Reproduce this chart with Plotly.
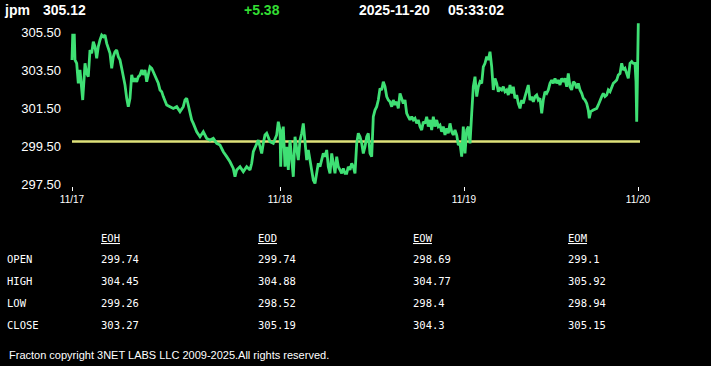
import plotly.graph_objects as go

W, H = 711, 366

symbol = "jpm"
last_price = "305.12"
change = "+5.38"
stamp_date = "2025-11-20"
stamp_time = "05:33:02"

# elapsed time index (trading units) and price
t = [0, 0.7, 2.3, 3, 4.7, 6.3, 8, 9.7, 10.7, 12, 13, 14.7, 16.3, 18, 19.7, 21.3, 23, 24.7, 26.3, 28, 29.7, 31.3, 33, 34.7, 36.3, 38, 39.7, 41.3, 43, 44.7, 46.3, 48, 49.7, 51.3, 53, 54.7, 56.3, 58, 59.7, 61.3, 63, 64.7, 66.3, 68, 69.7, 71.3, 73, 74.7, 76.3, 78, 79.7, 81.3, 83, 84.7, 86.3, 88, 89.7, 91.3, 93, 94.7, 98, 101.3, 104.7, 108, 111.3, 113, 114.7, 116.3, 118, 119.7, 121.3, 124.7, 128, 131.3, 134.7, 138, 141.3, 144.7, 148, 151.3, 154.7, 158, 161.3, 163, 164.7, 168, 171.3, 174.7, 178, 179.7, 181.3, 184.7, 186.3, 188, 189.7, 191.3, 193, 194.7, 196.3, 198, 201.3, 204.7, 206.3, 208, 208.7, 209.7, 211.3, 213, 214.7, 216.3, 218, 219.7, 221.3, 223, 224.7, 226.3, 228, 229.7, 231.3, 233, 234.7, 236.3, 238, 239.7, 241.3, 243, 244.7, 246.3, 248, 249.7, 251.3, 253, 254.7, 256.3, 258, 259.7, 261.3, 263, 264.7, 266.3, 268, 269.7, 271.3, 273, 274.7, 276.3, 278, 279.7, 281.3, 283, 284.7, 286.3, 288,
     289.7, 291.3, 293, 294.7, 296.3, 298, 299.7, 301.3, 303, 304.7, 306.3, 308, 309.7, 311.3, 313, 314.7, 316.3, 318, 319.7, 321.3, 323, 324.7, 326.3, 328, 329.7, 331.3, 333, 334.7, 336.3, 338, 339.7, 341.3, 343, 344.7, 346.3, 348, 349.7, 351.3, 353, 354.7, 356.3, 358, 359.7, 361.3, 363, 364.7, 366.3, 368, 369.7, 371.3, 373, 374.7, 376.3, 378, 379.7, 381.3, 383, 384.7, 386.3, 388, 389.7, 391.3, 393, 394.7, 396.3, 398, 399.7, 401.3, 403, 404.7, 406.3, 408, 409.7, 411.3, 413, 414.7, 416.3, 418, 419.7, 421.3, 423, 424.7, 426.3, 428, 429.7, 431.3, 433, 434.7, 436.3, 438, 439.7, 441.3, 443, 444.7, 446.3, 448, 449.7, 451.3, 453, 454.7, 456.3, 458, 459.7, 461.3, 463, 464.7, 466.3, 468, 469.7, 471.3, 473, 474.7, 476.3, 478, 479.7, 481.3, 483, 484.7, 486.3, 488, 489.7, 491.3, 493, 494.7, 496.3, 498, 499.7, 501.3, 503, 504.7, 506.3, 508, 509.7, 511.3, 513, 514.7, 516.3, 517.3, 518.7, 521.3, 524.7, 526.3, 528, 529.7, 531.3, 533, 534.7, 536.3, 538, 539.7, 541.3, 543, 544.7, 546.3, 548, 549.7, 551.3, 553, 554.7, 556.3, 558, 559.7, 561.3, 563, 564, 564.7, 565.3, 566.3]

price = [304.03, 305.34, 305.34, 304.03, 303.85, 302.80, 303.50, 302.62, 301.92, 302.97, 303.85, 303.32, 303.15, 304.55, 304.38, 304.99, 304.73, 304.11, 304.73, 305.08, 305.34, 305.25, 305.34, 304.90, 304.64, 304.38, 303.59, 304.20, 304.46, 304.55, 304.20, 304.03, 303.59, 303.24, 302.71, 302.01, 301.57, 302.01, 303.24, 302.88, 303.06, 302.88, 303.15, 303.24, 303.50, 303.24, 303.50, 302.88, 303.32, 303.67, 303.59, 303.41, 303.24, 302.97, 302.80, 302.45, 302.36, 302.10, 301.83, 301.66, 301.57, 301.48, 301.57, 301.31, 301.57, 301.92, 302.01, 301.66, 301.22, 300.87, 300.69, 300.25, 299.99, 300.25, 299.90, 299.81, 299.90, 299.64, 299.55, 299.20, 298.94, 298.67, 298.32, 297.88, 298.24, 298.41, 298.15, 298.41, 298.24, 298.59, 299.20, 299.64, 299.81, 299.46, 299.11, 299.64, 300.08, 300.17, 299.90, 299.73, 299.64, 300.08, 300.78, 300.34, 298.41, 299.99, 300.52, 298.41, 299.46, 298.24, 299.81, 298.59, 297.88, 299.99, 299.46, 298.76, 299.81, 300.17, 300.69, 299.81, 298.76, 299.29, 298.76, 298.24, 297.71, 297.53, 298.06, 298.59, 298.41, 298.76, 299.11, 298.94, 299.29, 298.41, 298.06, 299.11, 298.59, 298.06, 298.94, 298.41, 298.24, 298.06, 298.32, 298.06, 298.06, 298.41, 298.24, 298.59, 298.41, 298.06, 299.64, 300.17, 299.99,
         299.64, 299.11, 299.46, 299.99, 300.17, 299.11, 298.94, 301.04, 301.39, 301.57, 301.92, 302.53, 302.45, 302.88, 302.62, 302.10, 301.92, 301.83, 301.57, 301.92, 301.66, 301.83, 301.48, 302.27, 301.92, 301.74, 301.92, 301.22, 301.04, 300.87, 301.04, 300.87, 300.96, 300.69, 300.87, 300.52, 300.34, 300.78, 300.69, 301.04, 300.52, 300.87, 300.34, 301.04, 300.52, 300.87, 300.52, 300.60, 300.25, 300.52, 300.08, 300.43, 300.17, 300.69, 300.25, 300.08, 300.34, 300.08, 299.55, 299.64, 298.94, 300.52, 299.11, 300.34, 300.52, 299.64, 301.22, 302.62, 303.15, 302.10, 302.62, 302.88, 302.80, 303.67, 303.85, 304.20, 304.03, 304.46, 303.67, 302.45, 303.06, 302.80, 302.36, 302.53, 302.45, 302.62, 302.36, 302.45, 302.18, 302.71, 302.27, 302.62, 302.01, 302.18, 301.74, 301.48, 301.92, 301.74, 302.10, 302.36, 302.71, 301.92, 302.10, 301.83, 302.10, 302.18, 301.92, 302.01, 301.22, 301.92, 302.36, 302.27, 302.45, 302.80, 302.97, 302.80, 303.06, 302.80, 302.97, 302.71, 303.06, 302.88, 303.06, 302.62, 303.32, 302.62, 302.45, 302.88, 302.80, 302.53, 302.80, 302.45, 302.27, 302.01, 301.92, 301.74, 301.39, 300.96, 301.31, 301.39, 301.48, 301.66, 301.92, 302.10, 302.27, 302.10, 302.18, 302.45, 302.36, 302.62, 302.80, 302.88, 302.97, 303.24, 303.32, 303.85, 303.50, 303.59, 303.32, 303.06, 303.85, 303.94, 303.85, 303.85, 302.88, 300.78, 302.62, 305.96]

ref_level = 299.74
ref_span = [0, 568]

y_ticks = [297.5, 299.5, 301.5, 303.5, 305.5]
x_tick_pos = [0, 208, 392, 566]
x_tick_text = ["11/17", "11/18", "11/19", "11/20"]

col_headers = ["EOH", "EOD", "EOW", "EOM"]
row_labels = ["OPEN", "HIGH", "LOW", "CLOSE"]
eoh = ["299.74", "304.45", "299.26", "303.27"]
eod = ["299.74", "304.88", "298.52", "305.19"]
eow = ["298.69", "304.77", "298.4", "304.3"]
eom = ["299.1", "305.92", "298.94", "305.15"]
footer = "Fracton copyright 3NET LABS LLC 2009-2025.All rights reserved."

fig = go.Figure()
fig.add_trace(go.Scatter(x=ref_span, y=[ref_level, ref_level], mode="lines",
                         line=dict(color="#dfe27a", width=2.5), hoverinfo="skip"))
fig.add_trace(go.Scatter(x=t, y=price, mode="lines",
                         line=dict(color="#3fe074", width=2.8), hoverinfo="skip"))

def px(x):
    return x / W

def py(y):
    return 1 - y / H

ann = []
hdr_font = dict(family="Liberation Sans, Arial", size=14, color="white")
def add(text, x, y, font, anchor="left"):
    ann.append(dict(text=text, x=px(x), y=py(y), xref="paper", yref="paper",
                    xanchor=anchor, yanchor="middle", showarrow=False, font=font))

add("<b>" + symbol + "</b>", 2, 10, hdr_font)
add("<b>" + last_price + "</b>", 41, 10, hdr_font)
add("<b>" + change + "</b>", 242, 10, dict(hdr_font, color="#33dd33"))
add("<b>" + stamp_date + "</b>", 357, 10, hdr_font)
add("<b>" + stamp_time + "</b>", 446, 10, hdr_font)

mono = dict(family="DejaVu Sans Mono", size=10.5, color="white")
col_x = [100, 257, 412, 567]
row_y = [259, 281, 303, 325]
for cx, h in zip(col_x, col_headers):
    add("<u>" + h + "</u>", cx - 1, 238, mono)
for ry, lab in zip(row_y, row_labels):
    add(lab, 5, ry, mono)
for cx, col in zip(col_x, [eoh, eod, eow, eom]):
    for ry, v in zip(row_y, col):
        add(v, cx - 1, ry, mono)

add(footer, 7, 355, dict(family="Liberation Sans, Arial", size=11, color="white"))

top_px, bot_px = 20, 186
left_px, right_px = 66, 645
y_top = 305.5 + (32 - top_px) / 19
y_bot = 305.5 - (bot_px - 32) / 19

fig.update_layout(
    width=W, height=H,
    margin=dict(l=0, r=0, t=0, b=0, autoexpand=False),
    paper_bgcolor="black", plot_bgcolor="black",
    showlegend=False,
    annotations=ann,
    xaxis=dict(domain=[left_px / W, right_px / W], range=[left_px - 72, right_px - 72],
               tickvals=x_tick_pos, ticktext=x_tick_text, ticks="outside", ticklen=4,
               tickcolor="white", tickwidth=1, showgrid=False, zeroline=False, showline=False,
               automargin=False,
               tickfont=dict(family="Liberation Sans, Arial", size=10, color="white")),
    yaxis=dict(domain=[1 - bot_px / H, 1 - top_px / H], range=[y_bot, y_top],
               tickvals=y_ticks, tickformat=".2f", showgrid=False, zeroline=False,
               showline=False, ticks="", ticklabelstandoff=4, automargin=False,
               tickfont=dict(family="Liberation Sans, Arial", size=13, color="white")),
)

fig.write_html("out.html")
